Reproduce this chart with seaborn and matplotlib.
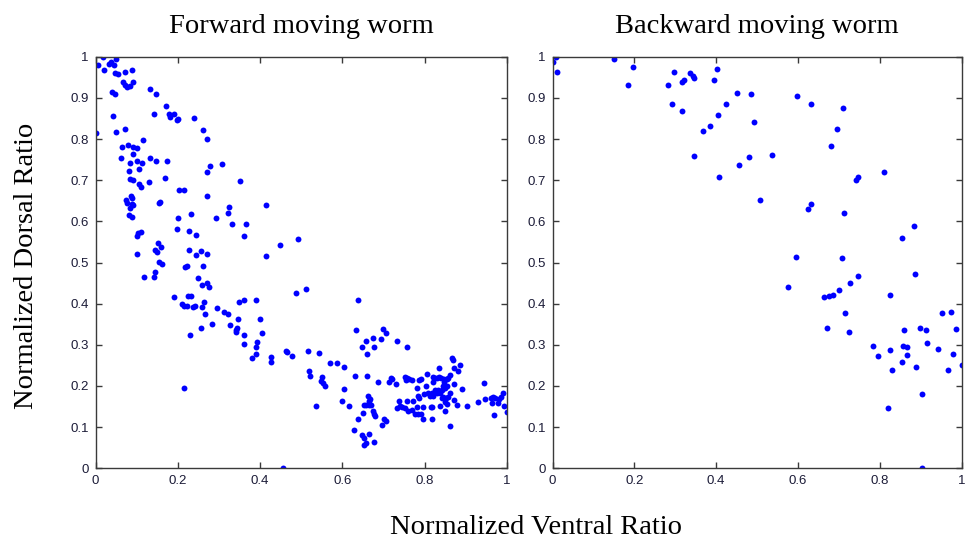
import matplotlib
matplotlib.use("Agg")
import matplotlib.pyplot as plt
import seaborn as sns
import pandas as pd

# ---------------- data ----------------
fwd_x = [0.019, 0.007, 0.021, 0.032, 0.037, 0.045, 0.049, 0.047, 0.054, 0.072,
         0.089, 0.068, 0.072, 0.076, 0.084, 0.092, 0.039, 0.047, 0.132, 0.147,
         0.171, 0.142, 0.179, 0.181, 0.191, 0.197, 0.201, 0.042, 0.24, 0.0,
         0.051, 0.072, 0.262, 0.27, 0.115, 0.064, 0.08, 0.09, 0.1, 0.062,
         0.092, 0.132, 0.084, 0.1, 0.114, 0.147, 0.173, 0.106, 0.082, 0.308,
         0.278, 0.27, 0.084, 0.092, 0.106, 0.11, 0.13, 0.168, 0.352, 0.203,
         0.216, 0.27, 0.087, 0.089, 0.074, 0.077, 0.089, 0.092, 0.084, 0.082,
         0.089, 0.157, 0.154, 0.325, 0.322, 0.232, 0.2, 0.293, 0.414, 0.332,
         0.366, 0.197, 0.228, 0.244, 0.1, 0.104, 0.11, 0.361, 0.492, 0.448,
         0.153, 0.158, 0.145, 0.15, 0.1, 0.228, 0.244, 0.256, 0.27, 0.414,
         0.154, 0.161, 0.222, 0.217, 0.262, 0.145, 0.142, 0.118, 0.25, 0.258,
         0.27, 0.277, 0.487, 0.191, 0.226, 0.231, 0.209, 0.216, 0.223, 0.238,
         0.242, 0.264, 0.259, 0.267, 0.296, 0.313, 0.323, 0.349, 0.361, 0.39,
         0.346, 0.4, 0.282, 0.256, 0.326, 0.343, 0.341, 0.341, 0.361, 0.23,
         0.405, 0.393, 0.39, 0.361, 0.39, 0.381, 0.426, 0.426, 0.463, 0.465,
         0.478, 0.215, 0.455, 0.511, 0.639, 0.633, 0.698, 0.706, 0.657, 0.674,
         0.694, 0.733, 0.648, 0.677, 0.757, 0.659, 0.516, 0.542, 0.571, 0.586,
         0.604, 0.519, 0.522, 0.551, 0.548, 0.554, 0.558, 0.631, 0.659, 0.686,
         0.717, 0.721, 0.714, 0.73, 0.605, 0.6, 0.616, 0.537, 0.661, 0.667,
         0.665, 0.657, 0.664, 0.67, 0.653, 0.674, 0.677, 0.68, 0.651, 0.639,
         0.702, 0.706, 0.697, 0.627, 0.647, 0.653, 0.665, 0.657, 0.653, 0.678,
         0.752, 0.756, 0.762, 0.768, 0.755, 0.786, 0.792, 0.806, 0.782, 0.819,
         0.825, 0.821, 0.829, 0.835, 0.84, 0.846, 0.848, 0.854, 0.857, 0.862,
         0.835, 0.867, 0.868, 0.885, 0.881, 0.871, 0.871, 0.891, 0.802, 0.799,
         0.809, 0.817, 0.813, 0.819, 0.825, 0.833, 0.829, 0.841, 0.845, 0.849,
         0.853, 0.837, 0.844, 0.851, 0.857, 0.861, 0.841, 0.849, 0.854, 0.836,
         0.817, 0.849, 0.861, 0.878, 0.872, 0.737, 0.756, 0.771, 0.785, 0.732,
         0.74, 0.745, 0.752, 0.759, 0.768, 0.776, 0.783, 0.791, 0.797, 0.797,
         0.815, 0.817, 0.781, 0.783, 0.902, 0.929, 0.943, 0.947, 0.961, 0.967,
         0.971, 0.964, 0.969, 0.977, 0.981, 0.985, 0.99, 0.993, 1.0]
fwd_y = [1.0, 0.98, 0.968, 0.982, 0.986, 0.98, 0.994, 0.961, 0.958, 0.964,
         0.968, 0.938, 0.931, 0.927, 0.93, 0.938, 0.915, 0.909, 0.921, 0.909,
         0.88, 0.86, 0.86, 0.854, 0.861, 0.846, 0.849, 0.857, 0.85, 0.814,
         0.816, 0.824, 0.822, 0.801, 0.798, 0.781, 0.786, 0.781, 0.777, 0.755,
         0.764, 0.755, 0.742, 0.746, 0.742, 0.746, 0.746, 0.728, 0.722, 0.739,
         0.734, 0.719, 0.702, 0.7, 0.69, 0.684, 0.696, 0.705, 0.699, 0.676,
         0.676, 0.662, 0.662, 0.656, 0.652, 0.644, 0.642, 0.64, 0.632, 0.615,
         0.611, 0.648, 0.645, 0.634, 0.62, 0.618, 0.608, 0.608, 0.64, 0.594,
         0.594, 0.581, 0.576, 0.568, 0.565, 0.571, 0.573, 0.565, 0.556, 0.542,
         0.547, 0.538, 0.53, 0.526, 0.521, 0.53, 0.519, 0.529, 0.521, 0.517,
         0.502, 0.496, 0.491, 0.488, 0.491, 0.476, 0.464, 0.464, 0.462, 0.445,
         0.449, 0.441, 0.427, 0.415, 0.419, 0.419, 0.398, 0.395, 0.394, 0.391,
         0.394, 0.403, 0.391, 0.374, 0.389, 0.38, 0.374, 0.403, 0.409, 0.409,
         0.362, 0.362, 0.351, 0.342, 0.347, 0.342, 0.336, 0.33, 0.324, 0.324,
         0.328, 0.307, 0.294, 0.301, 0.278, 0.269, 0.27, 0.258, 0.286, 0.283,
         0.272, 0.196, 0.0, 0.436, 0.409, 0.336, 0.339, 0.328, 0.31, 0.316,
         0.313, 0.31, 0.295, 0.295, 0.295, 0.278, 0.284, 0.28, 0.257, 0.257,
         0.245, 0.237, 0.225, 0.222, 0.211, 0.208, 0.201, 0.225, 0.225, 0.21,
         0.219, 0.216, 0.21, 0.204, 0.193, 0.164, 0.152, 0.152, 0.176, 0.169,
         0.164, 0.153, 0.153, 0.153, 0.153, 0.138, 0.133, 0.128, 0.134, 0.12,
         0.119, 0.116, 0.105, 0.093, 0.08, 0.073, 0.083, 0.062, 0.056, 0.065,
         0.223, 0.219, 0.216, 0.215, 0.214, 0.215, 0.217, 0.228, 0.196, 0.223,
         0.219, 0.21, 0.219, 0.223, 0.219, 0.21, 0.216, 0.216, 0.219, 0.227,
         0.243, 0.267, 0.262, 0.252, 0.237, 0.243, 0.205, 0.193, 0.199, 0.181,
         0.182, 0.184, 0.176, 0.176, 0.19, 0.19, 0.182, 0.19, 0.199, 0.194,
         0.199, 0.182, 0.174, 0.17, 0.174, 0.182, 0.17, 0.162, 0.156, 0.152,
         0.15, 0.14, 0.103, 0.155, 0.166, 0.164, 0.164, 0.164, 0.17, 0.147,
         0.152, 0.148, 0.146, 0.139, 0.142, 0.131, 0.131, 0.131, 0.15, 0.12,
         0.15, 0.12, 0.15, 0.176, 0.152, 0.16, 0.208, 0.169, 0.172, 0.174,
         0.171, 0.159, 0.129, 0.159, 0.168, 0.174, 0.184, 0.152, 0.137]

bwd_x = [0.0, 0.009, 0.012, 0.15, 0.197, 0.184, 0.283, 0.296, 0.316, 0.321,
         0.335, 0.344, 0.347, 0.293, 0.317, 0.402, 0.396, 0.451, 0.485, 0.425,
         0.404, 0.385, 0.367, 0.493, 0.347, 0.408, 0.455, 0.481, 0.598, 0.631,
         0.71, 0.695, 0.681, 0.537, 0.81, 0.746, 0.743, 0.507, 0.631, 0.625,
         0.713, 0.884, 0.854, 0.596, 0.708, 0.575, 0.663, 0.675, 0.687, 0.701,
         0.728, 0.746, 0.716, 0.672, 0.725, 0.886, 0.825, 0.953, 0.974, 0.859,
         0.898, 0.913, 0.986, 0.916, 0.942, 0.784, 0.795, 0.825, 0.856, 0.866,
         0.866, 0.854, 0.83, 0.889, 0.98, 0.968, 1.0, 0.903, 0.821, 0.903]
bwd_y = [0.986, 1.0, 0.964, 0.994, 0.976, 0.931, 0.931, 0.964, 0.939, 0.943,
         0.961, 0.953, 0.948, 0.884, 0.867, 0.969, 0.943, 0.913, 0.909, 0.884,
         0.858, 0.831, 0.819, 0.841, 0.759, 0.708, 0.738, 0.756, 0.905, 0.884,
         0.875, 0.825, 0.784, 0.761, 0.72, 0.708, 0.7, 0.653, 0.641, 0.629,
         0.62, 0.588, 0.559, 0.513, 0.51, 0.441, 0.415, 0.418, 0.421, 0.432,
         0.45, 0.468, 0.377, 0.342, 0.33, 0.471, 0.421, 0.377, 0.38, 0.336,
         0.342, 0.336, 0.339, 0.304, 0.289, 0.298, 0.272, 0.287, 0.298, 0.295,
         0.275, 0.258, 0.24, 0.245, 0.278, 0.24, 0.251, 0.181, 0.146, 0.0]

titles = ["Forward moving worm", "Backward moving worm"]
x_ticks = [0, 0.2, 0.4, 0.6, 0.8, 1]
x_tick_labels = ["0", "0.2", "0.4", "0.6", "0.8", "1"]
y_ticks = [0, 0.1, 0.2, 0.3, 0.4, 0.5, 0.6, 0.7, 0.8, 0.9, 1]
y_tick_labels = ["0", "0.1", "0.2", "0.3", "0.4", "0.5", "0.6", "0.7", "0.8", "0.9", "1"]
x_label = "Normalized Ventral Ratio"
y_label = "Normalized Dorsal Ratio"

df_f = pd.DataFrame({"x": fwd_x, "y": fwd_y})
df_b = pd.DataFrame({"x": bwd_x, "y": bwd_y})

# ---------------- style ----------------
sns.set_style("white")
plt.rcParams["font.family"] = ["Liberation Sans", "DejaVu Sans"]
serif = ["Liberation Serif", "DejaVu Serif"]
tick_color = "#1c1c38"
spine_color = "#3a3a3a"

fig = plt.figure(figsize=(9.65, 5.4), dpi=100)
ax1 = fig.add_axes([95.5 / 965, 1 - 468.3 / 540, 411.5 / 965, 411.6 / 540])
ax2 = fig.add_axes([552.5 / 965, 1 - 468.3 / 540, 409.0 / 965, 411.6 / 540])

for ax, df, title in [(ax1, df_f, titles[0]), (ax2, df_b, titles[1])]:
    sns.scatterplot(data=df, x="x", y="y", ax=ax, color="#0000ff", s=18,
                    linewidth=0, marker="o", legend=False)
    ax.set_xlim(0, 1)
    ax.set_ylim(0, 1)
    ax.set_xticks(x_ticks)
    ax.set_xticklabels(x_tick_labels)
    ax.set_yticks(y_ticks)
    ax.set_yticklabels(y_tick_labels)
    ax.set_xlabel("")
    ax.set_ylabel("")
    ax.tick_params(direction="in", length=4, width=1, colors=spine_color,
                   labelcolor=tick_color, labelsize=9.5, pad=5,
                   top=True, right=True, bottom=True, left=True)
    for sp in ax.spines.values():
        sp.set_visible(True)
        sp.set_color(spine_color)
        sp.set_linewidth(1.0)
    ax.set_title(title, family=serif, fontsize=20.5, color="black", pad=17)

fig.text(535.5 / 965, 1 - 527 / 540, x_label, family=serif, fontsize=20.5,
         ha="center", va="center", color="black")
fig.text(27 / 965, 1 - 266 / 540, y_label, family=serif, fontsize=20.5,
         ha="center", va="center", rotation=90, color="black")

fig.savefig("out.png", dpi=100)
